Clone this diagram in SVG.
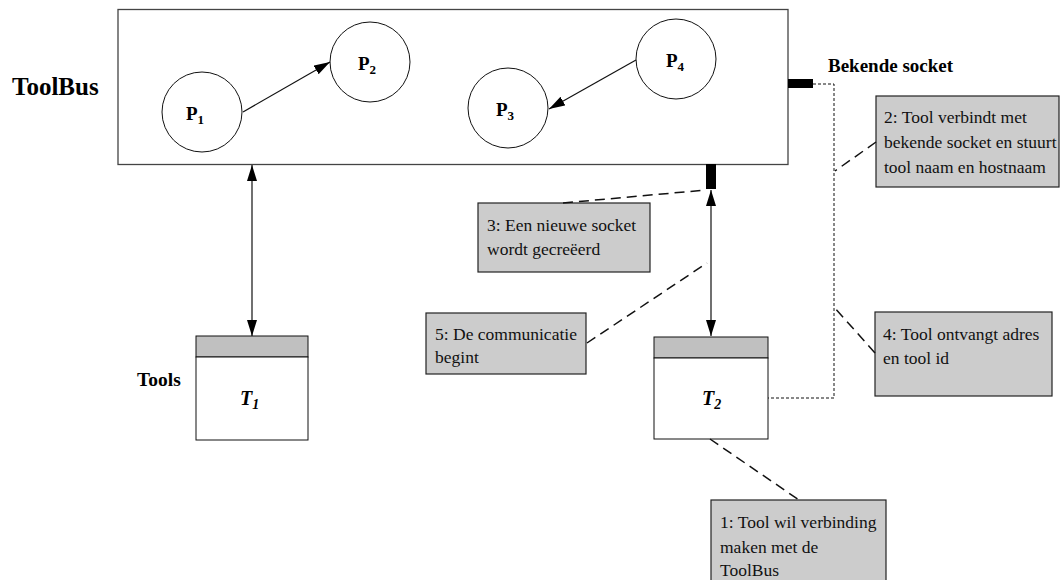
<svg xmlns="http://www.w3.org/2000/svg" width="1060" height="580" viewBox="0 0 1060 580">
<style>
.title{font-family:'Liberation Serif','Times New Roman','DejaVu Serif',serif;font-weight:bold;fill:#000}
.note{fill:#cccccc;stroke:#222;stroke-width:1.2}
.nt{font-family:'Liberation Serif','Times New Roman','DejaVu Serif',serif;font-size:17.5px;fill:#111}
.circ{fill:#fff;stroke:#111;stroke-width:1}
.pl{font-family:'Liberation Serif','Times New Roman','DejaVu Serif',serif;font-weight:bold;font-size:19px;fill:#000}
.tl{font-family:'Liberation Serif','Times New Roman','DejaVu Serif',serif;font-weight:bold;font-style:italic;font-size:20px;fill:#000}
.line{stroke:#111;stroke-width:1.2;fill:none}
.dash{stroke:#111;stroke-width:1.5;fill:none;stroke-dasharray:10,6}
.dot{stroke:#111;stroke-width:1;fill:none;stroke-dasharray:3,2}
.sock{fill:#000}
</style>
<defs>
<marker id="ah" markerUnits="userSpaceOnUse" markerWidth="16" markerHeight="12" refX="16" refY="5" orient="auto-start-reverse">
<path d="M0,0 L16,5 L0,10 z" fill="#000"/>
</marker>
</defs>
<rect width="1060" height="580" fill="#fff"/>

<g id="toolbus">
<rect x="118" y="9.5" width="670" height="155" fill="#fff" stroke="#444" stroke-width="1.3"/>
<text class="title" x="12" y="95" font-size="25">ToolBus</text>
</g>
<g id="p1"><circle class="circ" cx="202" cy="112" r="40"/><text class="pl" x="186" y="120">P<tspan font-size="13" dy="4">1</tspan></text></g>
<g id="p2"><circle class="circ" cx="370" cy="62" r="40"/><text class="pl" x="358" y="70">P<tspan font-size="13" dy="4">2</tspan></text></g>
<g id="p3"><circle class="circ" cx="508" cy="108" r="40"/><text class="pl" x="496" y="116">P<tspan font-size="13" dy="4">3</tspan></text></g>
<g id="p4"><circle class="circ" cx="676" cy="59" r="40"/><text class="pl" x="666" y="67">P<tspan font-size="13" dy="4">4</tspan></text></g>

<g id="socket-known">
<rect class="sock" x="788" y="79" width="25" height="9"/>
<text class="title" x="828" y="72" font-size="19">Bekende socket</text>
</g>
<g id="socket-new"><rect class="sock" x="706" y="164" width="10" height="25"/></g>

<g id="t1">
<rect x="196" y="336" width="112" height="21" fill="#c0c0c0" stroke="#111" stroke-width="1"/>
<rect x="196" y="357" width="112" height="83" fill="#fff" stroke="#111" stroke-width="1"/>
<text class="tl" x="240" y="405">T<tspan font-size="14" dy="4">1</tspan></text>
<text class="title" x="137" y="386" font-size="19.5">Tools</text>
</g>
<g id="t2">
<rect x="654" y="337" width="114" height="21" fill="#c0c0c0" stroke="#111" stroke-width="1"/>
<rect x="654" y="358" width="114" height="81" fill="#fff" stroke="#111" stroke-width="1"/>
<text class="tl" x="702" y="405">T<tspan font-size="14" dy="4">2</tspan></text>
</g>

<g id="note1"><rect class="note" x="711" y="500" width="175" height="90"/>
<text class="nt" x="720" y="528">1: Tool wil verbinding</text><text class="nt" x="720" y="553">maken met de</text><text class="nt" x="720" y="576">ToolBus</text></g>
<g id="note2"><rect class="note" x="876" y="96" width="183" height="91"/>
<text class="nt" x="884" y="123">2: Tool verbindt met</text><text class="nt" x="884" y="148">bekende socket en stuurt</text><text class="nt" x="884" y="173">tool naam en hostnaam</text></g>
<g id="note3"><rect class="note" x="478" y="203" width="172" height="69"/>
<text class="nt" x="487" y="231">3: Een nieuwe socket</text><text class="nt" x="487" y="255">wordt gecreëerd</text></g>
<g id="note4"><rect class="note" x="875" y="312" width="177" height="84"/>
<text class="nt" x="883" y="340">4: Tool ontvangt adres</text><text class="nt" x="883" y="364">en tool id</text></g>
<g id="note5"><rect class="note" x="426" y="313" width="160" height="61"/>
<text class="nt" x="435" y="340">5: De communicatie</text><text class="nt" x="435" y="363">begint</text></g>

<g id="connectors">
<line class="line" x1="243" y1="112" x2="330" y2="62" marker-end="url(#ah)"/>
<line class="line" x1="636" y1="60" x2="549" y2="109" marker-end="url(#ah)"/>
<line class="line" x1="252" y1="165" x2="252" y2="336" marker-start="url(#ah)" marker-end="url(#ah)"/>
<line class="line" x1="711" y1="190" x2="711" y2="336" marker-start="url(#ah)" marker-end="url(#ah)"/>
<polyline class="dot" points="813,84 834,84 834,398 768,398"/>
<line class="dash" x1="876" y1="142" x2="835" y2="171"/>
<line class="dash" x1="563" y1="203" x2="706" y2="190"/>
<line class="dash" x1="587" y1="343" x2="707" y2="263"/>
<line class="dash" x1="875" y1="353" x2="834" y2="307"/>
<line class="dash" x1="710" y1="439" x2="799" y2="500"/>
</g>
</svg>
